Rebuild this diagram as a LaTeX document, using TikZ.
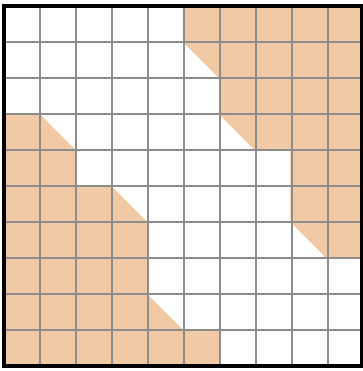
\documentclass[tikz,border=0pt]{standalone}
\usepackage{tikz}
\definecolor{peach}{RGB}{241,202,165}
\definecolor{gridgray}{RGB}{140,140,140}
\tikzset{
  region/.style={fill=peach, draw=none},
  gridline/.style={draw=gridgray, line width=1.6pt},
  frame/.style={draw=black, line width=2.4pt}
}
\begin{document}
\begin{tikzpicture}[x=0.99444cm,y=1cm]
\useasboundingbox (-0.11173,-0.13889) rectangle (10.02793,10.16667);
% shaded regions
\fill[region] (5,10) -- (10,10) -- (10,3) -- (9,3) -- (8,4) -- (8,6) -- (7,6) -- (6,7) -- (6,8) -- (5,9) -- cycle;
\fill[region] (0,0) -- (6,0) -- (6,1) -- (5,1) -- (4,2) -- (4,4) -- (3,5) -- (2,5) -- (2,6) -- (1,7) -- (0,7) -- cycle;
% grid
\draw[gridline] (0,0) grid (10,10);
% frame
\draw[frame] (0,0) rectangle (10,10);
\end{tikzpicture}
\end{document}
